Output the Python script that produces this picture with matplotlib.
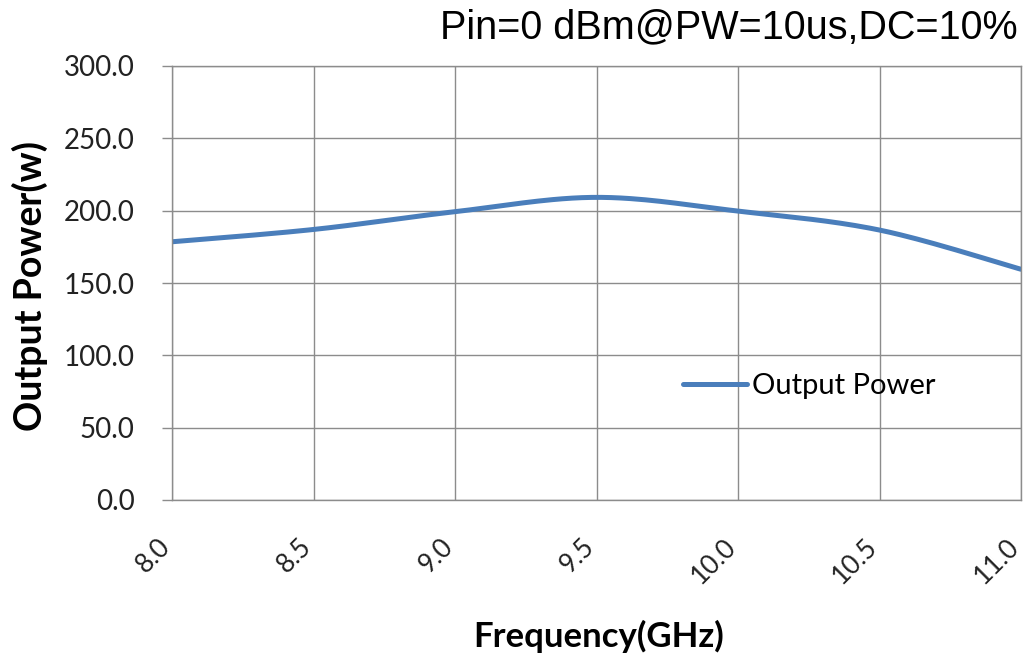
import numpy as np
import matplotlib
matplotlib.use("Agg")
import matplotlib.pyplot as plt
from matplotlib.transforms import ScaledTranslation

freq_ghz = [8.0, 8.5, 9.0, 9.5, 10.0, 10.5, 11.0]
output_power_w = [178.5, 187.0, 199.3, 209.2, 199.7, 186.6, 159.5]
x_ticks = [8.0, 8.5, 9.0, 9.5, 10.0, 10.5, 11.0]
y_ticks = [0, 50, 100, 150, 200, 250, 300]

LINE_COLOR = "#4A7EBB"
GRID_COLOR = "#8C8C8C"
LABEL_FONT = ["Lato", "DejaVu Sans"]
TITLE_FONT = ["Liberation Sans Narrow", "Liberation Sans", "DejaVu Sans"]


def smooth(xs, ys, n=30):
    # Excel-style smoothed line: cubic Bezier through the points
    xs = np.asarray(xs, float)
    ys = np.asarray(ys, float)
    px = np.concatenate([[xs[0]], xs, [xs[-1]]])
    py = np.concatenate([[ys[0]], ys, [ys[-1]]])
    out_x, out_y = [], []
    t = np.linspace(0, 1, n)
    for i in range(1, len(px) - 2):
        p0 = np.array([px[i], py[i]])
        p3 = np.array([px[i + 1], py[i + 1]])
        c1 = p0 + (np.array([px[i + 1], py[i + 1]]) - np.array([px[i - 1], py[i - 1]])) / 6
        c2 = p3 - (np.array([px[i + 2], py[i + 2]]) - np.array([px[i], py[i]])) / 6
        b = ((1 - t) ** 3)[:, None] * p0 + (3 * (1 - t) ** 2 * t)[:, None] * c1 \
            + (3 * (1 - t) * t ** 2)[:, None] * c2 + (t ** 3)[:, None] * p3
        out_x.extend(b[:, 0])
        out_y.extend(b[:, 1])
    return out_x, out_y


fig = plt.figure(figsize=(10.23, 6.55), dpi=100)
ax = fig.add_axes([172 / 1023, 1 - 500 / 655, 849 / 1023, 434 / 655])

sx, sy = smooth(freq_ghz, output_power_w)
ax.plot(sx, sy, color=LINE_COLOR, linewidth=3.6, solid_capstyle="round",
        label="Output Power")

ax.set_xlim(8.0, 11.0)
ax.set_ylim(0, 300)
ax.set_xticks(x_ticks)
ax.set_yticks(y_ticks)
ax.set_xticklabels([f"{v:.1f}" for v in x_ticks], rotation=45, ha="right",
                   va="center", rotation_mode="anchor", fontsize=19,
                   family=LABEL_FONT, color="#222222")
ax.set_yticklabels([f"{v:.1f}" for v in y_ticks], fontsize=20,
                   family=LABEL_FONT, color="#222222")
ax.tick_params(axis="y", length=7, width=1, color=GRID_COLOR, pad=20)
ax.tick_params(axis="x", length=0, pad=31)
# nudge rotated labels a little left, like the original
shift = ScaledTranslation(-6 / 100, 0, fig.dpi_scale_trans)
for lbl in ax.get_xticklabels():
    lbl.set_transform(lbl.get_transform() + shift)

ax.grid(True, color=GRID_COLOR, linewidth=1)
ax.set_axisbelow(True)
for sp in ax.spines.values():
    sp.set_color(GRID_COLOR)
    sp.set_linewidth(1)

ax.set_xlabel("Frequency(GHz)", fontsize=25, fontweight="bold",
              family=LABEL_FONT, va="top")
ax.set_ylabel("Output Power(w)", fontsize=27, fontweight="bold",
              family=LABEL_FONT, va="bottom")
ax.xaxis.set_label_coords(0.502, -0.277)
ax.yaxis.set_label_coords(-0.146, 0.493)

fig.text(1018 / 1023, 1 - 27 / 655, "Pin=0 dBm@PW=10us,DC=10%", ha="right",
         va="center", fontsize=28.5, family=TITLE_FONT)

ax.legend(loc="center left", bbox_to_anchor=(0.602, 0.263), frameon=False,
          borderaxespad=0, borderpad=0, handlelength=2.2, handletextpad=0.15,
          prop={"family": LABEL_FONT, "size": 21})

fig.savefig("out.png", dpi=100, facecolor="white")
